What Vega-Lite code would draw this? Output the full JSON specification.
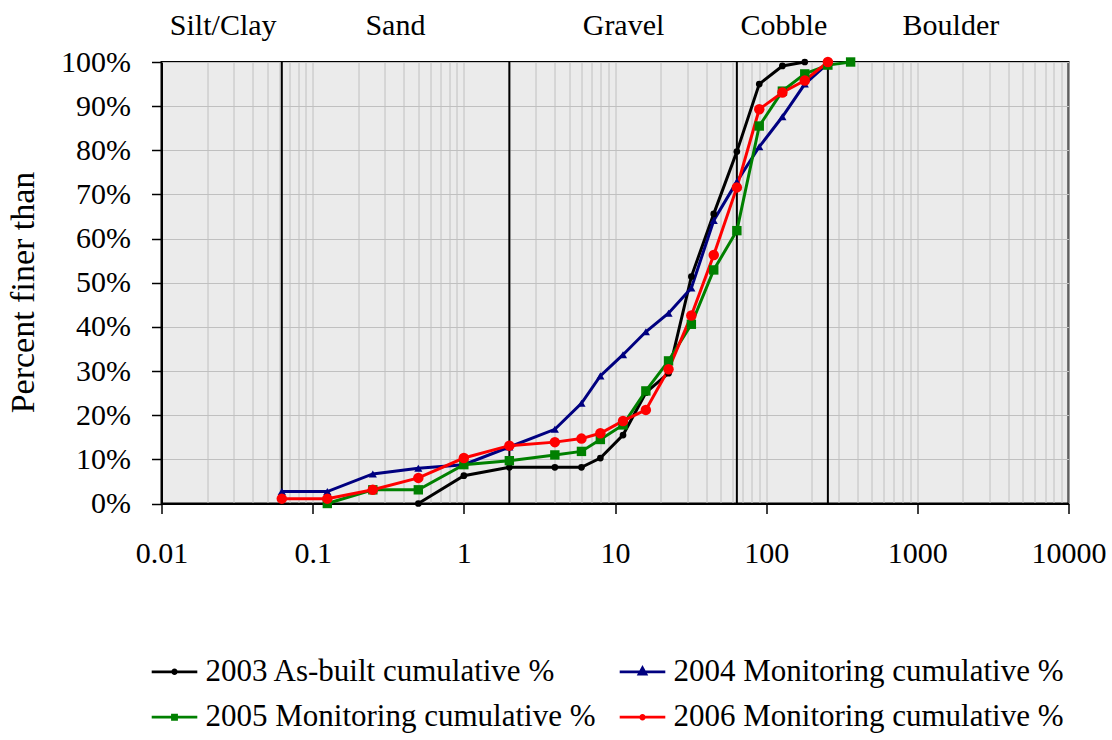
{
  "$schema": "https://vega.github.io/schema/vega-lite/v6.json",
  "autosize": "none",
  "width": 907,
  "height": 441.5,
  "padding": {"left": 161.5, "top": 62, "right": 43.5, "bottom": 236.5},
  "background": "white",
  "config": {
    "font": "Liberation Serif",
    "view": {"fill": "#EBEBEB", "stroke": "#000000", "strokeWidth": 2},
    "axis": {
      "labelFont": "Liberation Serif",
      "labelFontSize": 30,
      "labelColor": "#000000",
      "titleFont": "Liberation Serif",
      "titleFontSize": 30,
      "titleFontWeight": "normal",
      "titleColor": "#000000"
    },
    "legend": {
      "labelFont": "Liberation Serif",
      "labelFontSize": 31,
      "labelColor": "#000000"
    }
  },
  "datasets": {
    "gradation": [
      {"series": "2003 As-built cumulative %", "size_mm": 0.5, "pct": 0},
      {"series": "2003 As-built cumulative %", "size_mm": 1, "pct": 6.3},
      {"series": "2003 As-built cumulative %", "size_mm": 2, "pct": 8.2},
      {"series": "2003 As-built cumulative %", "size_mm": 4, "pct": 8.2},
      {"series": "2003 As-built cumulative %", "size_mm": 6, "pct": 8.2},
      {"series": "2003 As-built cumulative %", "size_mm": 8, "pct": 10.3},
      {"series": "2003 As-built cumulative %", "size_mm": 11.3, "pct": 15.5},
      {"series": "2003 As-built cumulative %", "size_mm": 16, "pct": 25.1},
      {"series": "2003 As-built cumulative %", "size_mm": 22.6, "pct": 29.5},
      {"series": "2003 As-built cumulative %", "size_mm": 32, "pct": 51.4},
      {"series": "2003 As-built cumulative %", "size_mm": 45, "pct": 65.6},
      {"series": "2003 As-built cumulative %", "size_mm": 64, "pct": 79.7},
      {"series": "2003 As-built cumulative %", "size_mm": 90, "pct": 95.0},
      {"series": "2003 As-built cumulative %", "size_mm": 128, "pct": 99.1},
      {"series": "2003 As-built cumulative %", "size_mm": 180, "pct": 100},

      {"series": "2004 Monitoring cumulative %", "size_mm": 0.0625, "pct": 2.7},
      {"series": "2004 Monitoring cumulative %", "size_mm": 0.125, "pct": 2.7},
      {"series": "2004 Monitoring cumulative %", "size_mm": 0.25, "pct": 6.7},
      {"series": "2004 Monitoring cumulative %", "size_mm": 0.5, "pct": 8.0},
      {"series": "2004 Monitoring cumulative %", "size_mm": 1, "pct": 8.8},
      {"series": "2004 Monitoring cumulative %", "size_mm": 2, "pct": 12.8},
      {"series": "2004 Monitoring cumulative %", "size_mm": 4, "pct": 16.8},
      {"series": "2004 Monitoring cumulative %", "size_mm": 6, "pct": 22.7},
      {"series": "2004 Monitoring cumulative %", "size_mm": 8, "pct": 28.9},
      {"series": "2004 Monitoring cumulative %", "size_mm": 11.3, "pct": 33.7},
      {"series": "2004 Monitoring cumulative %", "size_mm": 16, "pct": 38.9},
      {"series": "2004 Monitoring cumulative %", "size_mm": 22.6, "pct": 43.1},
      {"series": "2004 Monitoring cumulative %", "size_mm": 32, "pct": 48.8},
      {"series": "2004 Monitoring cumulative %", "size_mm": 45, "pct": 64.1},
      {"series": "2004 Monitoring cumulative %", "size_mm": 64, "pct": 72.9},
      {"series": "2004 Monitoring cumulative %", "size_mm": 90, "pct": 80.8},
      {"series": "2004 Monitoring cumulative %", "size_mm": 128, "pct": 87.6},
      {"series": "2004 Monitoring cumulative %", "size_mm": 180, "pct": 95.0},
      {"series": "2004 Monitoring cumulative %", "size_mm": 256, "pct": 99.7},

      {"series": "2005 Monitoring cumulative %", "size_mm": 0.125, "pct": 0},
      {"series": "2005 Monitoring cumulative %", "size_mm": 0.25, "pct": 3.1},
      {"series": "2005 Monitoring cumulative %", "size_mm": 0.5, "pct": 3.1},
      {"series": "2005 Monitoring cumulative %", "size_mm": 1, "pct": 8.8},
      {"series": "2005 Monitoring cumulative %", "size_mm": 2, "pct": 9.7},
      {"series": "2005 Monitoring cumulative %", "size_mm": 4, "pct": 11.0},
      {"series": "2005 Monitoring cumulative %", "size_mm": 6, "pct": 11.8},
      {"series": "2005 Monitoring cumulative %", "size_mm": 8, "pct": 14.5},
      {"series": "2005 Monitoring cumulative %", "size_mm": 11.3, "pct": 17.8},
      {"series": "2005 Monitoring cumulative %", "size_mm": 16, "pct": 25.5},
      {"series": "2005 Monitoring cumulative %", "size_mm": 22.6, "pct": 32.3},
      {"series": "2005 Monitoring cumulative %", "size_mm": 32, "pct": 40.6},
      {"series": "2005 Monitoring cumulative %", "size_mm": 45, "pct": 52.9},
      {"series": "2005 Monitoring cumulative %", "size_mm": 64, "pct": 61.8},
      {"series": "2005 Monitoring cumulative %", "size_mm": 90, "pct": 85.5},
      {"series": "2005 Monitoring cumulative %", "size_mm": 128, "pct": 93.4},
      {"series": "2005 Monitoring cumulative %", "size_mm": 180, "pct": 97.3},
      {"series": "2005 Monitoring cumulative %", "size_mm": 256, "pct": 99.3},
      {"series": "2005 Monitoring cumulative %", "size_mm": 362, "pct": 100},

      {"series": "2006 Monitoring cumulative %", "size_mm": 0.0625, "pct": 1.1},
      {"series": "2006 Monitoring cumulative %", "size_mm": 0.125, "pct": 1.1},
      {"series": "2006 Monitoring cumulative %", "size_mm": 0.25, "pct": 3.1},
      {"series": "2006 Monitoring cumulative %", "size_mm": 0.5, "pct": 5.8},
      {"series": "2006 Monitoring cumulative %", "size_mm": 1, "pct": 10.3},
      {"series": "2006 Monitoring cumulative %", "size_mm": 2, "pct": 13.1},
      {"series": "2006 Monitoring cumulative %", "size_mm": 4, "pct": 13.9},
      {"series": "2006 Monitoring cumulative %", "size_mm": 6, "pct": 14.7},
      {"series": "2006 Monitoring cumulative %", "size_mm": 8, "pct": 15.9},
      {"series": "2006 Monitoring cumulative %", "size_mm": 11.3, "pct": 18.7},
      {"series": "2006 Monitoring cumulative %", "size_mm": 16, "pct": 21.2},
      {"series": "2006 Monitoring cumulative %", "size_mm": 22.6, "pct": 30.4},
      {"series": "2006 Monitoring cumulative %", "size_mm": 32, "pct": 42.6},
      {"series": "2006 Monitoring cumulative %", "size_mm": 45, "pct": 56.3},
      {"series": "2006 Monitoring cumulative %", "size_mm": 64, "pct": 71.6},
      {"series": "2006 Monitoring cumulative %", "size_mm": 90, "pct": 89.3},
      {"series": "2006 Monitoring cumulative %", "size_mm": 128, "pct": 93.1},
      {"series": "2006 Monitoring cumulative %", "size_mm": 180, "pct": 95.8},
      {"series": "2006 Monitoring cumulative %", "size_mm": 256, "pct": 100}
    ],
    "class_bounds": [
      {"bound_mm": 0.0625},
      {"bound_mm": 2},
      {"bound_mm": 64},
      {"bound_mm": 256}
    ]
  },
  "layer": [
    {
      "data": {"name": "class_bounds"},
      "mark": {"type": "rule", "color": "#000000", "strokeWidth": 2},
      "encoding": {
        "x": {
          "field": "bound_mm",
          "type": "quantitative",
          "scale": {"type": "log", "domain": [0.01, 10000], "nice": false},
          "axis": {
            "orient": "top",
            "title": null,
            "values": [0.0254, 0.35, 11.3, 130, 1655],
            "labelExpr": "datum.value < 0.1 ? 'Silt/Clay' : datum.value < 1 ? 'Sand' : datum.value < 50 ? 'Gravel' : datum.value < 200 ? 'Cobble' : 'Boulder'",
            "domain": false,
            "ticks": false,
            "tickSize": 0,
            "grid": false,
            "labelPadding": 28,
            "labelBaseline": "alphabetic",
            "labelOverlap": false,
            "labelFlush": false,
            "labelFontSize": 30
          }
        }
      }
    },
    {
      "data": {"name": "gradation"},
      "encoding": {
        "x": {
          "field": "size_mm",
          "type": "quantitative",
          "scale": {"type": "log", "domain": [0.01, 10000], "nice": false},
          "axis": {
            "orient": "bottom",
            "title": null,
            "values": [0.01, 0.02, 0.03, 0.04, 0.05, 0.06, 0.07, 0.08, 0.09,
                       0.1, 0.2, 0.3, 0.4, 0.5, 0.6, 0.7, 0.8, 0.9,
                       1, 2, 3, 4, 5, 6, 7, 8, 9,
                       10, 20, 30, 40, 50, 60, 70, 80, 90,
                       100, 200, 300, 400, 500, 600, 700, 800, 900,
                       1000, 2000, 3000, 4000, 5000, 6000, 7000, 8000, 9000,
                       10000],
            "labelExpr": "abs(log(datum.value) / LN10 - round(log(datum.value) / LN10)) < 0.001 ? (datum.value < 1 ? format(datum.value, '~g') : format(datum.value, 'd')) : ''",
            "labelOverlap": false,
            "labelFlush": false,
            "labelPadding": 25,
            "grid": true,
            "gridColor": "#C0C0C0",
            "gridWidth": 1,
            "domainColor": "#000000",
            "domainWidth": 2,
            "tickColor": "#000000",
            "tickWidth": 1.5,
            "tickSize": 10,
            "tickOpacity": {
              "condition": {"test": "abs(log(datum.value) / LN10 - round(log(datum.value) / LN10)) < 0.001", "value": 1},
              "value": 0
            }
          }
        },
        "y": {
          "field": "pct",
          "type": "quantitative",
          "scale": {"domain": [0, 100], "nice": false},
          "axis": {
            "title": "Percent finer than",
            "titleFontSize": 34,
            "titlePadding": 20,
            "titleY": 230,
            "values": [0, 10, 20, 30, 40, 50, 60, 70, 80, 90, 100],
            "labelExpr": "datum.value + '%'",
            "labelPadding": 21,
            "grid": true,
            "gridColor": "#C0C0C0",
            "gridWidth": 1,
            "domainColor": "#000000",
            "domainWidth": 2,
            "tickColor": "#000000",
            "tickWidth": 1.5,
            "tickSize": 10
          }
        },
        "color": {
          "field": "series",
          "type": "nominal",
          "scale": {
            "domain": ["2003 As-built cumulative %", "2004 Monitoring cumulative %", "2005 Monitoring cumulative %", "2006 Monitoring cumulative %"],
            "range": ["#000000", "#000080", "#008000", "#FF0000"]
          },
          "legend": {
            "orient": "none",
            "direction": "horizontal",
            "legendX": -11.5,
            "legendY": 585,
            "columns": 2,
            "columnPadding": 18,
            "rowPadding": 5.7,
            "title": null,
            "labelFont": "Liberation Serif",
            "labelFontSize": 31,
            "labelColor": "#000000",
            "labelLimit": 800,
            "labelOffset": 6.5,
            "symbolSize": 2079,
            "symbolStrokeWidth": 2.75,
            "encode": {
              "symbols": {
                "update": {
                  "shape": {"signal": "datum.value === '2004 Monitoring cumulative %' ? 'M-1,0L1,0M0,-0.17L0.15,0.1L-0.15,0.1Z' : datum.value === '2005 Monitoring cumulative %' ? 'M-1,0L1,0M-0.09,-0.09L0.09,-0.09L0.09,0.09L-0.09,0.09Z' : 'M-1,0L1,0M0.08,0A0.08,0.08,0,1,1,-0.08,0A0.08,0.08,0,1,1,0.08,0Z'"},
                  "fill": {"scale": "color", "field": "value"},
                  "stroke": {"scale": "color", "field": "value"},
                  "size": {"value": 2079},
                  "strokeWidth": {"value": 2.75},
                  "opacity": {"value": 1}
                }
              }
            }
          }
        }
      },
      "layer": [
        {
          "mark": {"type": "line", "strokeWidth": 3}
        },
        {
          "mark": {"type": "point", "filled": true, "opacity": 1},
          "encoding": {
            "shape": {
              "field": "series",
              "type": "nominal",
              "scale": {"range": ["circle", "triangle-up", "square", "circle"]},
              "legend": null
            },
            "size": {
              "field": "series",
              "type": "nominal",
              "scale": {"range": [45, 110, 55, 55]},
              "legend": null
            }
          }
        }
      ]
    }
  ],
  "resolve": {"axis": {"x": "independent"}}
}
